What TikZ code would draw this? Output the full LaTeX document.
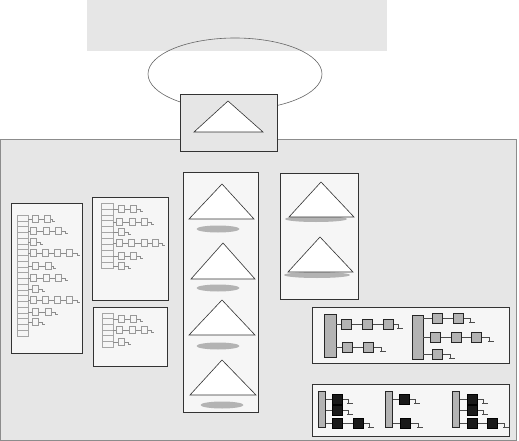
\documentclass[tikz,border=0pt]{standalone}
\usetikzlibrary{shapes.geometric}
\definecolor{bandgray}{HTML}{E6E6E6}
\definecolor{cardgray}{HTML}{F6F6F6}
\definecolor{shadegray}{HTML}{B3B3B3}
\tikzset{
  band/.style={fill=bandgray, draw=none, inner sep=0pt},
  panel/.style={draw=black!45, fill=bandgray, line width=0.8pt, inner sep=0pt},
  card/.style={draw=black!80, fill=cardgray, line width=0.9pt, inner sep=0pt},
  cloud/.style={ellipse, draw=black!60, line width=0.6pt, inner sep=0pt},
  tri/.style={draw=black!80, fill=white, line width=0.6pt},
  shade/.style={ellipse, fill=shadegray, inner sep=0pt},
  slot/.style={draw=black!35, line width=0.5pt},
  elem/.style={draw=black!40, fill=cardgray, line width=0.5pt, inner sep=0pt, minimum width=6, minimum height=7},
  link/.style={draw=black!45, line width=0.5pt},
  bar/.style={draw=black!85, fill=shadegray, line width=0.8pt, inner sep=0pt},
  gbox/.style={draw=black!85, fill=shadegray, line width=0.8pt, inner sep=0pt, minimum size=10},
  kbox/.style={draw=black, fill=black!90, line width=0.6pt, inner sep=0pt, minimum size=10},
  wire/.style={draw=black!70, line width=0.7pt},
  earth/.pic={\draw[wire] (0,0) -- (0,4) (-1,4) -- (5,4);},
  tick/.pic={\draw[link] (0,0) -- (0,2) (0,2) -- (3,2);},
}

\begin{document}
\begin{tikzpicture}[x=1pt,y=-1pt]
  \useasboundingbox (0,0) rectangle (519,441);

  % top band, cloud and head box
  \node[band, minimum width=300, minimum height=51] (band) at (237,25.5) {};
  \node[cloud, minimum width=174, minimum height=72] (cloud) at (235,74) {};
  \node[panel, minimum width=516, minimum height=301] (panel) at (258.5,290) {};
  \node[card, fill=bandgray, minimum width=97, minimum height=57] (head) at (228.5,122.5) {};
  \draw[tri] (228,101) -- (263,132) -- (194,132) -- cycle;

  % cards
  \node[card, minimum width=71, minimum height=150] (tblA) at (46.5,278.5) {};
  \node[card, minimum width=76, minimum height=103] (tblB) at (130,248.5) {};
  \node[card, minimum width=74, minimum height=59] (tblC) at (130,336.5) {};
  \node[card, minimum width=75, minimum height=240] (treeCol) at (220.5,292) {};
  \node[card, minimum width=78, minimum height=126] (treePair) at (319,236) {};
  \node[card, minimum width=197, minimum height=56] (chainTop) at (410.5,335) {};
  \node[card, minimum width=197, minimum height=52] (chainBot) at (410.5,410) {};

  % hash table A
  \foreach \i in {0,...,20}
    \draw[slot] (17,215+\i*5.76) rectangle ++(11,5.76);
  \foreach \y/\xs/\e in {219/{35,47}/52, 231/{33,46,58}/65, 242/{33}/40,
      253/{33,45,57,69}/77, 266/{35,48}/53, 278/{33,46,58}/65, 289/{35}/42,
      300/{33,45,57,69}/77, 312/{35,48}/55, 322/{35}/42} {
    \draw[link] (28,\y) -- (\e,\y);
    \foreach \x in \xs
      \node[elem] (a\y-\x) at (\x,\y) {};
    \pic at (\e,\y) {tick};
  }

  % hash table B
  \foreach \i in {0,...,10}
    \draw[slot] (101,203+\i*5.9) rectangle ++(12,5.9);
  \foreach \y/\xs/\e in {209/{121,133}/140, 222/{119,132,144}/151, 232/{121}/128,
      243/{119,131,144,155}/162, 256/{121,133}/140, 266/{121}/128} {
    \draw[link] (113,\y) -- (\e,\y);
    \foreach \x in \xs
      \node[elem] (b\y-\x) at (\x,\y) {};
    \pic at (\e,\y) {tick};
  }

  % hash table C
  \foreach \i in {0,...,5}
    \draw[slot] (102,313+\i*5.67) rectangle ++(11,5.67);
  \foreach \y/\xs/\e in {319/{121,133}/140, 330/{119,132,144}/151, 342/{121}/128} {
    \draw[link] (113,\y) -- (\e,\y);
    \foreach \x in \xs
      \node[elem] (c\y-\x) at (\x,\y) {};
    \pic at (\e,\y) {tick};
  }

  % column of trees
  \foreach \ax/\ay/\l/\r/\b/\sx/\sy in {222/184/189/254/219/218/229, 223/243/191/255/279/218/288,
      222/300/189/255/335/218/346, 222/360/190/256/395/222/405} {
    \node[shade, minimum width=43, minimum height=7] (s\ay) at (\sx,\sy) {};
    \draw[tri] (\ax,\ay) -- (\r,\b) -- (\l,\b) -- cycle;
  }

  % pair of trees
  \node[shade, minimum width=62, minimum height=6] (sp1) at (316,219) {};
  \draw[tri] (321,182) -- (354,217) -- (289,217) -- cycle;
  \node[shade, minimum width=66, minimum height=6] (sp2) at (317,275) {};
  \draw[tri] (320,237) -- (353,272) -- (288,272) -- cycle;

  % chains with gray cells
  \node[bar, minimum width=12, minimum height=43] (bar1) at (330,335.5) {};
  \node[bar, minimum width=11, minimum height=44] (bar2) at (417.5,337) {};
  \foreach \n/\y/\xs/\e in {bar1/324/{346,367,388}/398, bar1/347/{347,368}/381,
      bar2/318/{437,458}/470, bar2/337/{435,456,476}/489, bar2/354/{437}/450} {
    \draw[wire] (\n.east |- 0,\y) -- (\e,\y);
    \foreach \x in \xs
      \node[gbox] (g\y-\x) at (\x,\y) {};
    \pic at (\e,\y) {earth};
  }

  % chains with black cells
  \foreach \n/\x in {bar3/322, bar4/389, bar5/456}
    \node[bar, minimum width=7, minimum height=36] (\n) at (\x,409) {};
  \foreach \n/\y/\xs/\e in {bar3/399/{337}/348, bar3/410/{337}/348, bar3/423/{337,358}/369,
      bar4/399/{404}/415, bar4/423/{405}/418,
      bar5/399/{472}/483, bar5/410/{472}/483, bar5/423/{472,492}/504} {
    \draw[wire] (\n.east |- 0,\y) -- (\e,\y);
    \foreach \x in \xs
      \node[kbox] (k\y-\x) at (\x,\y) {};
    \pic at (\e,\y) {earth};
  }
\end{tikzpicture}
\end{document}
